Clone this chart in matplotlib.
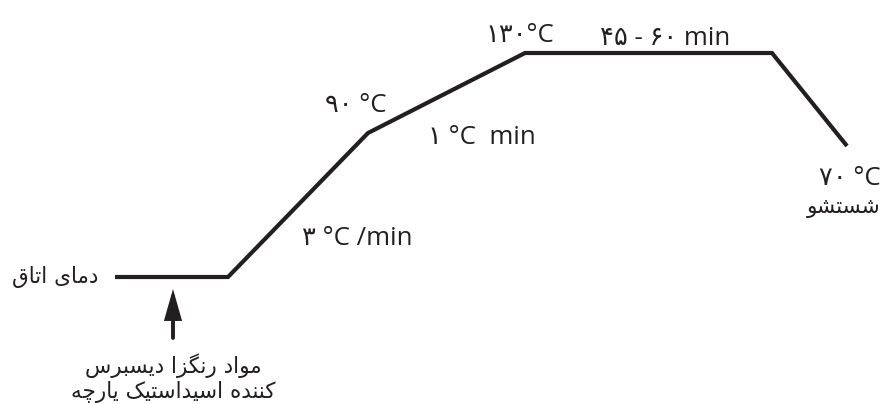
import matplotlib
matplotlib.use("Agg")
import matplotlib.pyplot as plt

# ---- schematic profile (time axis / temperature axis, schematic units) ----
stage_time = [115, 228, 368, 525, 772, 847]
stage_temp = [277, 277, 133, 53, 53, 146]

# ---- labels (logical Persian text) ----
room_label = "دمای اتاق"
dye_label_1 = "مواد رنگزا دیسبرس"
dye_label_2 = "کننده اسیداستیک یارچه"
wash_label = "شستشو"
rate1_label = "۳ °C /min"
t90_label = "۹۰ °C"
rate2_label = "۱ °C  min"
t130_label = "۱۳۰°C"
hold_label = "۴۵ - ۶۰ min"
t70_label = "۷۰ °C"

# ---- minimal Persian shaping (presentation forms, visual order) ----
FORMS = {
    'ا': ('\uFE8D', '\uFE8E', None, None),
    'ب': ('\uFE8F', '\uFE90', '\uFE91', '\uFE92'),
    'پ': ('\uFB56', '\uFB57', '\uFB58', '\uFB59'),
    'ت': ('\uFE95', '\uFE96', '\uFE97', '\uFE98'),
    'ج': ('\uFE9D', '\uFE9E', '\uFE9F', '\uFEA0'),
    'چ': ('\uFB7A', '\uFB7B', '\uFB7C', '\uFB7D'),
    'د': ('\uFEA9', '\uFEAA', None, None),
    'ر': ('\uFEAD', '\uFEAE', None, None),
    'ز': ('\uFEAF', '\uFEB0', None, None),
    'س': ('\uFEB1', '\uFEB2', '\uFEB3', '\uFEB4'),
    'ش': ('\uFEB5', '\uFEB6', '\uFEB7', '\uFEB8'),
    'ق': ('\uFED5', '\uFED6', '\uFED7', '\uFED8'),
    'ک': ('\uFB8E', '\uFB8F', '\uFB90', '\uFB91'),
    'گ': ('\uFB92', '\uFB93', '\uFB94', '\uFB95'),
    'م': ('\uFEE1', '\uFEE2', '\uFEE3', '\uFEE4'),
    'ن': ('\uFEE5', '\uFEE6', '\uFEE7', '\uFEE8'),
    'ه': ('\uFEE9', '\uFEEA', '\uFEEB', '\uFEEC'),
    'و': ('\uFEED', '\uFEEE', None, None),
    'ی': ('\uFBFC', '\uFBFD', '\uFBFE', '\uFBFF'),
}
RIGHT_ONLY = set('اداذرزژو')


def shape(text):
    chars = list(text)
    out = []
    for i, c in enumerate(chars):
        if c not in FORMS:
            out.append(c)
            continue
        prev = chars[i - 1] if i > 0 else None
        nxt = chars[i + 1] if i + 1 < len(chars) else None
        join_prev = prev in FORMS and prev not in RIGHT_ONLY
        join_next = c not in RIGHT_ONLY and nxt in FORMS
        iso, fin, ini, med = FORMS[c]
        if join_prev and join_next:
            g = med
        elif join_prev:
            g = fin
        elif join_next:
            g = ini
        else:
            g = iso
        out.append(g)
    return ''.join(reversed(out))


INK = '#231f20'
LAT = ['Open Sans', 'DejaVu Sans']
FA = ['DejaVu Sans']

fig = plt.figure(figsize=(8.93, 4.04), dpi=100)
ax = fig.add_axes([0, 0, 1, 1])
ax.set_xlim(0, 893)
ax.set_ylim(404, 0)
ax.axis('off')

ax.plot(stage_time, stage_temp, color=INK, lw=3.0, solid_joinstyle='miter',
        solid_capstyle='butt')

# arrow
ax.annotate('', xy=(173, 289), xytext=(173, 338),
            arrowprops=dict(arrowstyle='-|>,head_length=1.65,head_width=0.47',
                            lw=2.8, color=INK, shrinkA=0, shrinkB=0,
                            mutation_scale=10, joinstyle='miter'))

fs = 18.5
fa_fs = 15.5
ax.text(98, 277, shape(room_label), family=FA, fontsize=fa_fs, color=INK,
        ha='right', va='center')
ax.text(173, 366, shape(dye_label_1), family=FA, fontsize=fa_fs, color=INK,
        ha='center', va='center')
ax.text(173, 392, shape(dye_label_2), family=FA, fontsize=fa_fs, color=INK,
        ha='center', va='center')
ax.text(881, 208, shape(wash_label), family=FA, fontsize=fa_fs, color=INK,
        ha='right', va='center')

ax.text(302, 245, rate1_label, family=LAT, fontsize=fs, color=INK,
        ha='left', va='baseline')
ax.text(325, 112, t90_label, family=LAT, fontsize=fs, color=INK,
        ha='left', va='baseline')
ax.text(428, 144, rate2_label, family=LAT, fontsize=fs, color=INK,
        ha='left', va='baseline')
ax.text(486, 42, t130_label, family=LAT, fontsize=fs, color=INK,
        ha='left', va='baseline')
ax.text(600, 45, hold_label, family=LAT, fontsize=fs, color=INK,
        ha='left', va='baseline')
ax.text(881, 185, t70_label, family=LAT, fontsize=fs, color=INK,
        ha='right', va='baseline')

fig.savefig('out.png', dpi=100)
